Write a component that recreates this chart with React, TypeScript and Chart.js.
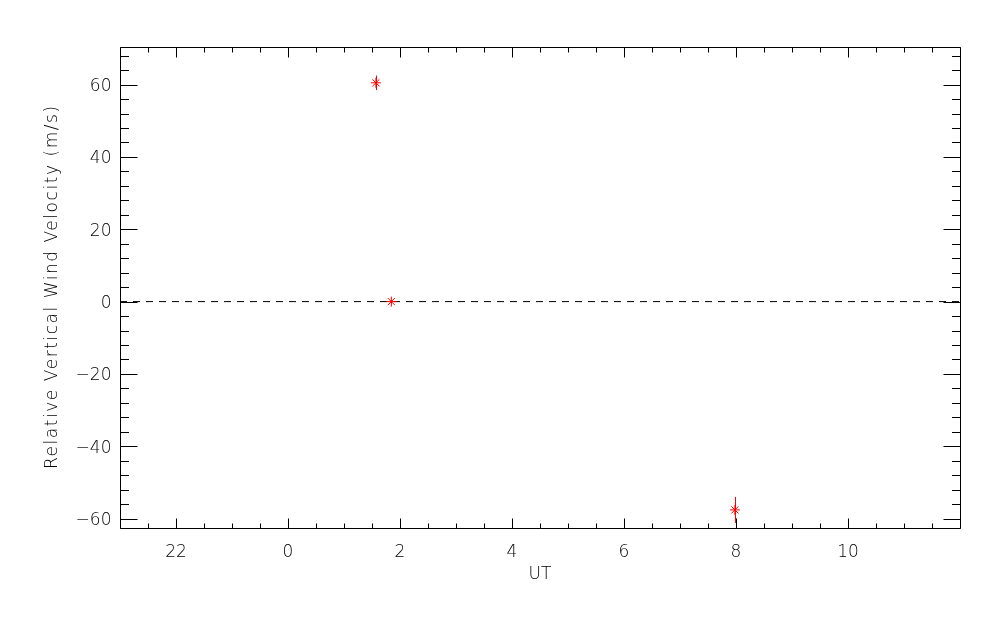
import React, { useEffect, useRef } from 'react';
import { Chart, registerables } from 'chart.js';

Chart.register(...registerables);

// ---- data ----
const utHours = [1.57, 1.845, 7.98];
const velocities = [60.5, 0, -57.6];
const velocityErrors = [2.0, 0.5, 3.6];

const xTickValues = [-2, 0, 2, 4, 6, 8, 10];
const xTickLabels = ['22', '0', '2', '4', '6', '8', '10'];
const yTickValues = [-60, -40, -20, 0, 20, 40, 60];
const yTickLabels = ['\u221260', '\u221240', '\u221220', '0', '20', '40', '60'];
const xMinorStep = 0.5;
const yMinorStep = 4;
const xMin = -3;
const xMax = 12;
const yMin = -62.6;
const yMax = 70.4;
const xTitle = 'UT';
const yTitle = 'Relative Vertical Wind Velocity (m/s)';

const FONT = '200 17px "DejaVu Sans", "Liberation Sans", sans-serif';

const framePlugin = {
  id: 'idlFrame',
  beforeDatasetsDraw(chart: any) {
    const ctx = chart.ctx;
    const xs = chart.scales.x;
    const ys = chart.scales.y;
    ctx.save();
    ctx.strokeStyle = 'red';
    ctx.lineWidth = 1;
    for (let i = 0; i < utHours.length; i++) {
      const px = Math.round(xs.getPixelForValue(utHours[i])) + 0.5;
      const top = ys.getPixelForValue(velocities[i] + velocityErrors[i]);
      const bot = ys.getPixelForValue(velocities[i] - velocityErrors[i]);
      ctx.beginPath();
      ctx.moveTo(px, top);
      ctx.lineTo(px, bot);
      ctx.stroke();
    }
    ctx.restore();
  },
  afterDraw(chart: any) {
    const ctx = chart.ctx;
    const a = chart.chartArea;
    const xs = chart.scales.x;
    const ys = chart.scales.y;
    const L = Math.round(a.left) + 0.5;
    const R = Math.round(a.right) + 0.5;
    const T = Math.round(a.top) + 0.5;
    const B = Math.round(a.bottom) + 0.5;
    ctx.save();
    ctx.strokeStyle = '#000';
    ctx.lineWidth = 1;
    ctx.beginPath();
    ctx.rect(L, T, R - L, B - T);
    ctx.stroke();

    const xMajLen = 10, xMinLen = 5, yMajLen = 17, yMinLen = 8.5;
    ctx.beginPath();
    for (let v = Math.ceil(xMin / xMinorStep) * xMinorStep; v <= xMax + 1e-9; v += xMinorStep) {
      const px = Math.round(xs.getPixelForValue(v)) + 0.5;
      ctx.moveTo(px, B); ctx.lineTo(px, B - xMinLen);
      ctx.moveTo(px, T); ctx.lineTo(px, T + xMinLen);
    }
    for (const v of xTickValues) {
      const px = Math.round(xs.getPixelForValue(v)) + 0.5;
      ctx.moveTo(px, B); ctx.lineTo(px, B - xMajLen);
      ctx.moveTo(px, T); ctx.lineTo(px, T + xMajLen);
    }
    for (let v = Math.ceil(yMin / yMinorStep) * yMinorStep; v <= yMax + 1e-9; v += yMinorStep) {
      const py = Math.round(ys.getPixelForValue(v)) + 0.5;
      ctx.moveTo(L, py); ctx.lineTo(L + yMinLen, py);
      ctx.moveTo(R, py); ctx.lineTo(R - yMinLen, py);
    }
    for (const v of yTickValues) {
      const py = Math.round(ys.getPixelForValue(v)) + 0.5;
      ctx.moveTo(L, py); ctx.lineTo(L + yMajLen, py);
      ctx.moveTo(R, py); ctx.lineTo(R - yMajLen, py);
    }
    ctx.stroke();

    ctx.fillStyle = '#000';
    ctx.font = FONT;
    ctx.textBaseline = 'alphabetic';
    ctx.textAlign = 'center';
    xTickValues.forEach((v, i) => {
      ctx.fillText(xTickLabels[i], xs.getPixelForValue(v), 556.5);
    });
    ctx.textAlign = 'right';
    yTickValues.forEach((v, i) => {
      ctx.fillText(yTickLabels[i], 111.5, ys.getPixelForValue(v) + 6.5);
    });
    ctx.textAlign = 'center';
    ctx.fillText(xTitle, (a.left + a.right) / 2, 579);
    ctx.save();
    ctx.translate(57, (a.top + a.bottom) / 2);
    ctx.rotate(-Math.PI / 2);
    const w = ctx.measureText(yTitle).width;
    const target = 363;
    const sp = (target - w) / (yTitle.length - 1);
    if ('letterSpacing' in ctx && sp > 0) {
      (ctx as any).letterSpacing = sp.toFixed(2) + 'px';
      ctx.fillText(yTitle, sp / 2, 0);
    } else {
      ctx.fillText(yTitle, 0, 0);
    }
    ctx.restore();
    ctx.restore();
  },
};

export default function App() {
  const ref = useRef<HTMLCanvasElement>(null);
  useEffect(() => {
    document.body.style.margin = '0';
    const canvas = ref.current!;
    const chart = new Chart(canvas, {
      type: 'scatter',
      data: {
        datasets: [
          {
            type: 'scatter',
            data: utHours.map((x, i) => ({ x, y: velocities[i] })),
            pointStyle: 'star',
            pointRadius: 5,
            pointBorderWidth: 1,
            borderColor: 'red',
            backgroundColor: 'red',
            order: 0,
          } as any,
          {
            type: 'line',
            data: [
              { x: xMin, y: 0 },
              { x: xMax, y: 0 },
            ],
            borderColor: '#000',
            borderWidth: 1,
            borderDash: [7, 6],
            pointRadius: 0,
            order: 1,
          } as any,
        ],
      },
      options: {
        responsive: false,
        animation: false,
        layout: { padding: { left: 120, top: 47, right: 40, bottom: 97 } },
        plugins: { legend: { display: false }, tooltip: { enabled: false } },
        scales: {
          x: { type: 'linear', min: xMin, max: xMax, display: false },
          y: { type: 'linear', min: yMin, max: yMax, display: false },
        },
      },
      plugins: [framePlugin],
    });
    return () => chart.destroy();
  }, []);
  return <canvas ref={ref} width={1000} height={625} style={{ display: 'block' }} />;
}
